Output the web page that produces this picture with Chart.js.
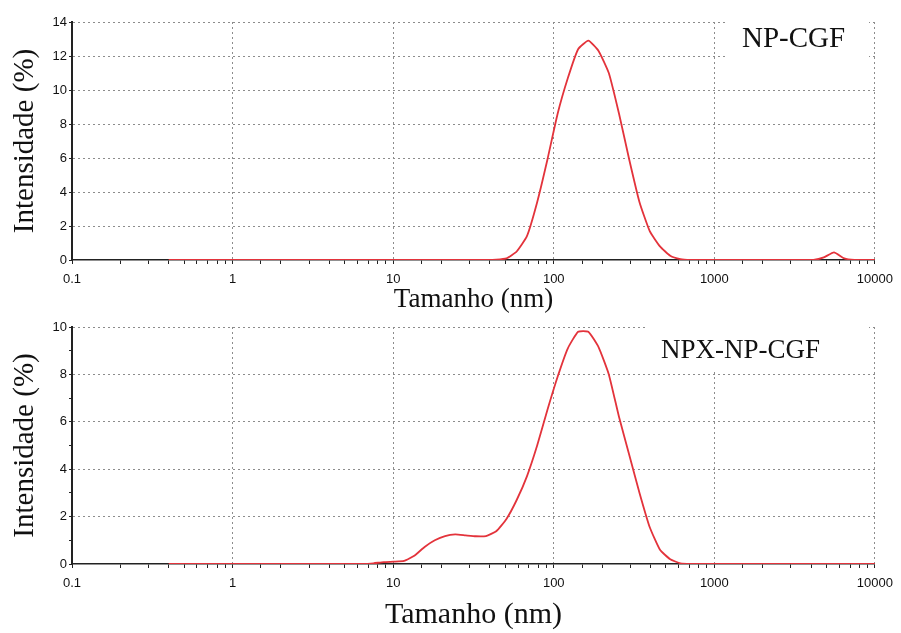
<!DOCTYPE html>
<html>
<head>
<meta charset="utf-8">
<script src="https://cdn.jsdelivr.net/npm/chart.js@4.4.1/dist/chart.umd.min.js"></script>
<style>
  html, body { margin: 0; padding: 0; background: #fff; }
  #wrap { position: relative; width: 901px; height: 633px; }
  #chart-top { position: absolute; left: 0; top: 0; }
  #chart-bottom { position: absolute; left: 0; top: 316px; }
</style>
</head>
<body>
<div id="wrap">
  <canvas id="chart-top" width="901" height="316"></canvas>
  <canvas id="chart-bottom" width="901" height="317"></canvas>
</div>
<script>
// Tamanho das classes (nm) - eixo x logaritmico
const sizeNm = [
  0.4, 0.4632, 0.5365, 0.6213, 0.7195, 0.8332, 0.9649, 1.117, 1.294, 1.499,
  1.736, 2.010, 2.328, 2.696, 3.122, 3.615, 4.187, 4.849, 5.615, 6.503,
  7.531, 8.721, 10.10, 11.70, 13.54, 15.69, 18.17, 21.04, 24.36, 28.21,
  32.67, 37.84, 43.82, 50.75, 58.77, 68.06, 78.82, 91.28, 105.7, 122.4,
  141.8, 164.2, 190.1, 220.2, 255.0, 295.3, 342.0, 396.1, 458.7, 531.2,
  615.1, 712.4, 825.0, 955.4, 1106, 1281, 1484, 1718, 1990, 2305,
  2669, 3091, 3580, 4145, 4801, 5560, 6439, 7456, 8635, 10000
];

// Intensidade (%) - NP-CGF
const intensityNpCgf = [
  0, 0, 0, 0, 0, 0, 0, 0, 0, 0,
  0, 0, 0, 0, 0, 0, 0, 0, 0, 0,
  0, 0, 0, 0, 0, 0, 0, 0, 0, 0,
  0, 0, 0.02, 0.1, 0.5, 1.4, 3.4, 5.9, 8.6, 10.7,
  12.4, 12.9, 12.3, 11.0, 8.6, 5.9, 3.4, 1.7, 0.8, 0.25,
  0.05, 0, 0, 0, 0, 0, 0, 0, 0, 0,
  0, 0, 0, 0, 0.15, 0.45, 0.1, 0, 0, 0
];

// Intensidade (%) - NPX-NP-CGF
const intensityNpxNpCgf = [
  0, 0, 0, 0, 0, 0, 0, 0, 0, 0,
  0, 0, 0, 0, 0, 0, 0, 0, 0, 0,
  0.03, 0.08, 0.1, 0.13, 0.35, 0.72, 1.0, 1.18, 1.25, 1.21,
  1.17, 1.18, 1.38, 1.9, 2.7, 3.7, 5.0, 6.5, 7.9, 9.1,
  9.8, 9.8, 9.15, 8.0, 6.2, 4.6, 3.0, 1.55, 0.6, 0.2,
  0.03, 0, 0, 0, 0, 0, 0, 0, 0, 0,
  0, 0, 0, 0, 0, 0, 0, 0, 0, 0
];

const xTickLabels = ['0.1', '1', '10', '100', '1000', '10000'];
const yTickLabelsTop = [0, 2, 4, 6, 8, 10, 12, 14];
const yTickLabelsBottom = [0, 2, 4, 6, 8, 10];

const LINE_COLOR = '#e3333b';
const GRID_COLOR = '#8c8c8c';
const TICK_FONT = { family: "'Liberation Sans', Arial, sans-serif", size: 13 };
const SERIF = "'Liberation Serif', 'Times New Roman', serif";

function isDecade(v) {
  return xTickLabels.includes(String(v));
}

// Plugin: rotulo da amostra com fundo branco
const sampleLabel = {
  id: 'sampleLabel',
  afterDraw(chart, args, opts) {
    const ctx = chart.ctx;
    ctx.save();
    ctx.fillStyle = '#fff';
    ctx.fillRect(opts.box[0], opts.box[1], opts.box[2], opts.box[3]);
    ctx.fillStyle = '#111';
    ctx.font = opts.size + 'px ' + SERIF;
    ctx.textBaseline = 'alphabetic';
    ctx.fillText(opts.text, opts.x, opts.y);
    ctx.restore();
  }
};

function createChart(ctx, cfg) {
  return new Chart(ctx, {
    type: 'line',
    data: {
      datasets: [{
        data: sizeNm.map((s, i) => ({ x: s, y: cfg.values[i] })),
        borderColor: LINE_COLOR,
        borderWidth: 1.8,
        pointRadius: 0,
        fill: false,
        tension: 0.15
      }]
    },
    options: {
      responsive: false,
      animation: false,
      layout: { padding: { left: 0, top: cfg.padTop, right: 26, bottom: 0 } },
      plugins: {
        legend: { display: false },
        tooltip: { enabled: false },
        sampleLabel: cfg.label
      },
      scales: {
        x: {
          type: 'logarithmic',
          min: 0.1,
          max: 10000,
          afterFit: s => { s.height = cfg.xAxisHeight; },
          border: { display: true, color: '#222', width: 1.5, dash: [2, 3] },
          grid: {
            color: c => isDecade(c.tick.value) ? GRID_COLOR : 'rgba(0,0,0,0)',
            tickColor: '#222',
            tickLength: 4,
            lineWidth: 1
          },
          ticks: {
            autoSkip: false,
            maxRotation: 0,
            padding: 8,
            color: '#111',
            font: TICK_FONT,
            callback: v => isDecade(v) ? String(v) : ''
          },
          title: {
            display: true,
            text: 'Tamanho (nm)',
            color: '#111',
            font: { family: SERIF, size: cfg.xTitleSize, lineHeight: 1.2 },
            padding: { top: 0, bottom: 0 }
          }
        },
        y: {
          min: 0,
          max: cfg.yMax,
          afterFit: s => { s.width = 72; },
          border: { display: true, color: '#222', width: 2, dash: [2, 3] },
          grid: {
            color: c => (cfg.yTicks.includes(c.tick.value) && c.tick.value !== 0) ? GRID_COLOR : 'rgba(0,0,0,0)',
            tickColor: '#222',
            tickLength: 3,
            lineWidth: 1
          },
          ticks: {
            stepSize: 1,
            padding: 2,
            color: '#111',
            font: TICK_FONT,
            callback: v => cfg.yTicks.includes(v) ? String(v) : ''
          },
          title: {
            display: true,
            text: 'Intensidade (%)',
            color: '#111',
            font: { family: SERIF, size: 29, lineHeight: 1.0 },
            padding: { top: 11, bottom: 0 }
          }
        }
      }
    },
    plugins: [sampleLabel]
  });
}

createChart(document.getElementById('chart-top').getContext('2d'), {
  values: intensityNpCgf,
  yMax: 14,
  yTicks: yTickLabelsTop,
  padTop: 22,
  xAxisHeight: 56,
  xTitleSize: 27,
  label: { text: 'NP-CGF', x: 742, y: 47, size: 29, box: [728, 15, 141, 51] }
});

createChart(document.getElementById('chart-bottom').getContext('2d'), {
  values: intensityNpxNpCgf,
  yMax: 10,
  yTicks: yTickLabelsBottom,
  padTop: 11,
  xAxisHeight: 69,
  xTitleSize: 30,
  label: { text: 'NPX-NP-CGF', x: 661, y: 42, size: 27, box: [646, 4, 223, 49] }
});
</script>
</body>
</html>
